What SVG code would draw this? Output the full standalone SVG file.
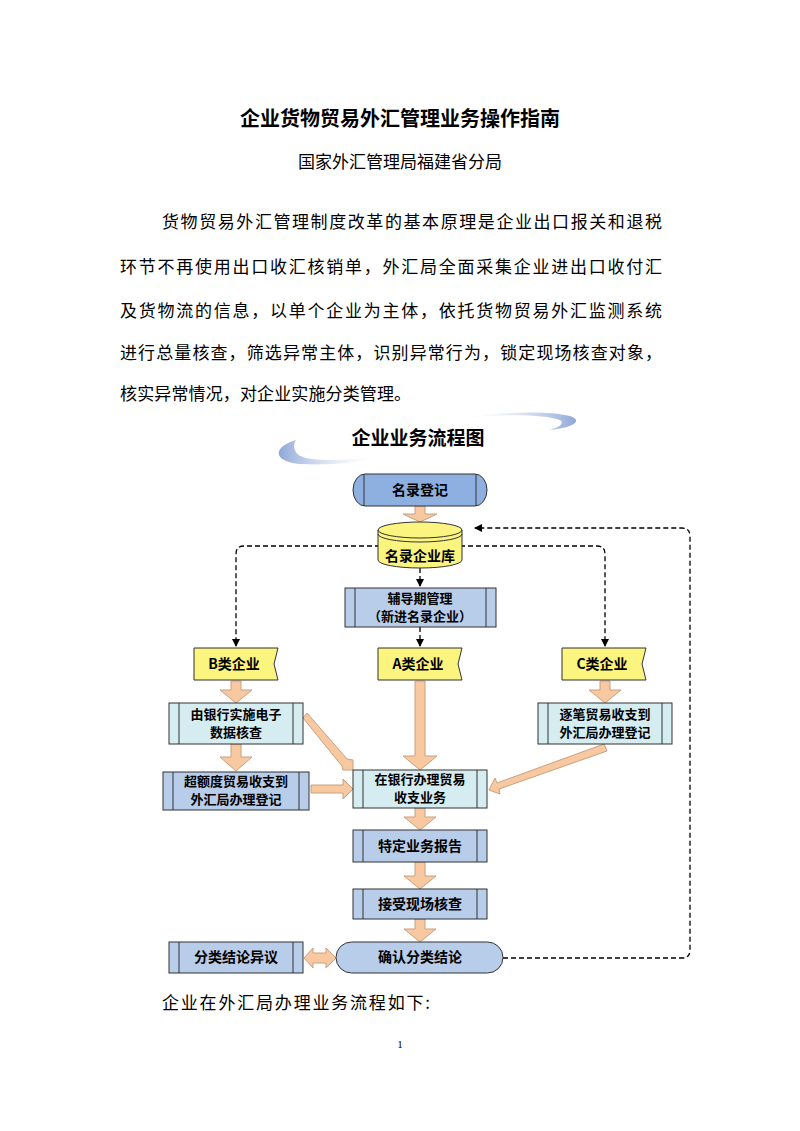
<svg xmlns="http://www.w3.org/2000/svg" width="800" height="1131" viewBox="0 0 800 1131">
<style>
.s{font-family:"Noto Sans CJK SC","Liberation Serif",serif;fill:#000}
.h{font-family:"Noto Sans CJK SC",sans-serif;fill:#000}
.n{font-family:"Noto Sans CJK SC",sans-serif;font-size:14px;font-weight:bold;fill:#000;text-anchor:middle}
.m{font-size:13px}
.dk{fill:#8eb0e0;stroke:#333;stroke-width:1}
.lt{fill:#b8cdea;stroke:#333;stroke-width:1}
.cy{fill:#d5ecf1;stroke:#333;stroke-width:1}
.yl{fill:#fbf57f;stroke:#333;stroke-width:1}
.bar{stroke:#333;stroke-width:1;fill:none}
.fat{fill:#f8c9a0;stroke:#c8a080;stroke-width:1}
.dash{fill:none;stroke:#000;stroke-width:1.3;stroke-dasharray:5,3}
</style>
<defs>
<linearGradient id="g1" x1="0" x2="1"><stop offset="0" stop-color="#8fa8d8"/><stop offset="1" stop-color="#ffffff" stop-opacity="0.2"/></linearGradient>
<linearGradient id="g2" x1="1" x2="0"><stop offset="0" stop-color="#8fa8d8"/><stop offset="1" stop-color="#ffffff" stop-opacity="0.2"/></linearGradient>
<marker id="ah" markerWidth="8" markerHeight="8" refX="7" refY="4" orient="auto" markerUnits="userSpaceOnUse"><path d="M0,0L8,4L0,8z" fill="#000"/></marker>
</defs>
<rect width="800" height="1131" fill="#fff"/>
<text class="h" x="400" y="126" font-size="20" font-weight="bold" text-anchor="middle">企业货物贸易外汇管理业务操作指南</text>
<text class="h" x="400" y="168" font-size="17" text-anchor="middle">国家外汇管理局福建省分局</text>
<g class="s" font-size="17">
<text x="162" y="228" textLength="500" lengthAdjust="spacing">货物贸易外汇管理制度改革的基本原理是企业出口报关和退税</text>
<text x="120" y="273" textLength="542" lengthAdjust="spacing">环节不再使用出口收汇核销单，外汇局全面采集企业进出口收付汇</text>
<text x="120" y="317" textLength="542" lengthAdjust="spacing">及货物流的信息，以单个企业为主体，依托货物贸易外汇监测系统</text>
<text x="120" y="359" textLength="542" lengthAdjust="spacing">进行总量核查，筛选异常主体，识别异常行为，锁定现场核查对象，</text>
<text x="120" y="400" textLength="291" lengthAdjust="spacing">核实异常情况，对企业实施分类管理。</text>
<text x="162" y="1009" textLength="268" lengthAdjust="spacing">企业在外汇局办理业务流程如下:</text>
</g>
<text x="400" y="1048" font-family="Liberation Serif,serif" font-size="11" text-anchor="middle">1</text>
<path d="M296,440 C270,448 275,462 300,464 C340,466 370,460 378,456 C340,462 300,462 296,452 C293,447 294,443 296,440Z" fill="url(#g1)"/>
<path d="M548,430 C575,428 583,420 570,416 C545,410 500,412 462,418 C500,414 545,414 560,420 C565,424 558,428 548,430Z" fill="url(#g2)"/>
<text class="h" x="418" y="445" font-size="19" font-weight="bold" text-anchor="middle">企业业务流程图</text>
<g id="connectors">
<path class="dash" d="M388,546 H244 Q236,546 236,554 V646" marker-end="url(#ah)"/>
<path class="dash" d="M452,546 H597 Q605,546 605,554 V646" marker-end="url(#ah)"/>
<path class="dash" d="M420,568 V586" marker-end="url(#ah)"/>
<path class="dash" d="M420,627 V646" marker-end="url(#ah)"/>
<path class="dash" d="M503,958 H682 Q690,958 690,950 V536 Q690,528 682,528 H475" marker-end="url(#ah)"/>
<path class="fat" d="M415,506 H425 V514 H437 L420,522 L403,514 H415Z"/>
<path class="fat" d="M415,681 H425 V756 H437 L420,770 L403,756 H415Z"/>
<path class="fat" d="M231,681 H241 V690 H252 L236,703 L220,690 H231Z"/>
<path class="fat" d="M231,744 H241 V757 H252 L236,771 L220,757 H231Z"/>
<path class="fat" d="M600,681 H610 V690 H621 L605,703 L589,690 H600Z"/>
<path class="fat" d="M415,808 H425 V817 H436 L420,830 L404,817 H415Z"/>
<path class="fat" d="M415,862 H425 V876 H436 L420,889 L404,876 H415Z"/>
<path class="fat" d="M415,919 H425 V929 H436 L420,942 L404,929 H415Z"/>
<path class="fat" d="M311,785 H343 V779 L353,789 L343,799 V793 H311Z"/>
<path class="fat" d="M303,718 L307,713 L347,759 L353,760 L353,770 L343,770 L342,766Z"/>
<path class="fat" d="M604,744 L607,751 L499,789 L500,794 L489,790 L495,778 L497,783Z"/>
<path class="fat" d="M304,958 L313,948 V953 H326 V948 L336,958 L326,968 V963 H313 V968Z"/>
</g>
<g id="n-reg"><path class="dk" d="M365,474 H475 A12,16 0 0 1 475,506 H365 A12,16 0 0 1 365,474Z"/><path class="bar" d="M364,474V506M476,474V506"/><text class="n" x="420" y="495">名录登记</text></g>
<g id="n-db"><path class="yl" d="M378,530 V560 A42,8 0 0 0 462,560 V530 A42,8 0 0 0 378,530Z"/><path class="bar" d="M378,530 A42,8 0 0 0 462,530 M378,534 A42,8 0 0 0 462,534"/><text class="n" x="420" y="561">名录企业库</text></g>
<g id="n-fd"><rect class="lt" x="345" y="588" width="151" height="39"/><path class="bar" d="M355,588V627M486,588V627"/><text class="n m" x="420" y="603">辅导期管理</text><text class="n m" x="420" y="621">（新进名录企业）</text></g>
<g id="n-b"><path class="yl" d="M194,648 H278 L274,664 L278,680 H194Z"/><text class="n" x="234" y="669">B类企业</text></g>
<g id="n-a"><path class="yl" d="M378,648 H462 L458,664 L462,680 H378Z"/><text class="n" x="418" y="669">A类企业</text></g>
<g id="n-c"><path class="yl" d="M562,648 H646 L642,664 L646,680 H562Z"/><text class="n" x="602" y="669">C类企业</text></g>
<g id="n-bank"><rect class="cy" x="169" y="703" width="134" height="41"/><path class="bar" d="M179,703V744M293,703V744"/><text class="n m" x="236" y="719">由银行实施电子</text><text class="n m" x="236" y="737">数据核查</text></g>
<g id="n-over"><rect class="lt" x="163" y="772" width="146" height="38"/><path class="bar" d="M173,772V810M299,772V810"/><text class="n m" x="236" y="786">超额度贸易收支到</text><text class="n m" x="236" y="804">外汇局办理登记</text></g>
<g id="n-trade"><rect class="cy" x="353" y="770" width="134" height="38"/><path class="bar" d="M363,770V808M477,770V808"/><text class="n m" x="420" y="784">在银行办理贸易</text><text class="n m" x="420" y="802">收支业务</text></g>
<g id="n-each"><rect class="cy" x="538" y="703" width="134" height="41"/><path class="bar" d="M548,703V744M662,703V744"/><text class="n m" x="605" y="719">逐笔贸易收支到</text><text class="n m" x="605" y="737">外汇局办理登记</text></g>
<g id="n-rep"><rect class="lt" x="353" y="830" width="134" height="32"/><path class="bar" d="M363,830V862M477,830V862"/><text class="n" x="420" y="851">特定业务报告</text></g>
<g id="n-chk"><rect class="lt" x="353" y="889" width="134" height="30"/><path class="bar" d="M363,889V919M477,889V919"/><text class="n" x="420" y="909">接受现场核查</text></g>
<g id="n-conf"><rect class="lt" x="336" y="942" width="167" height="31" rx="15.5"/><text class="n" x="420" y="962">确认分类结论</text></g>
<g id="n-obj"><rect class="lt" x="169" y="942" width="134" height="31"/><path class="bar" d="M179,942V973M293,942V973"/><text class="n" x="236" y="962">分类结论异议</text></g>
</svg>
